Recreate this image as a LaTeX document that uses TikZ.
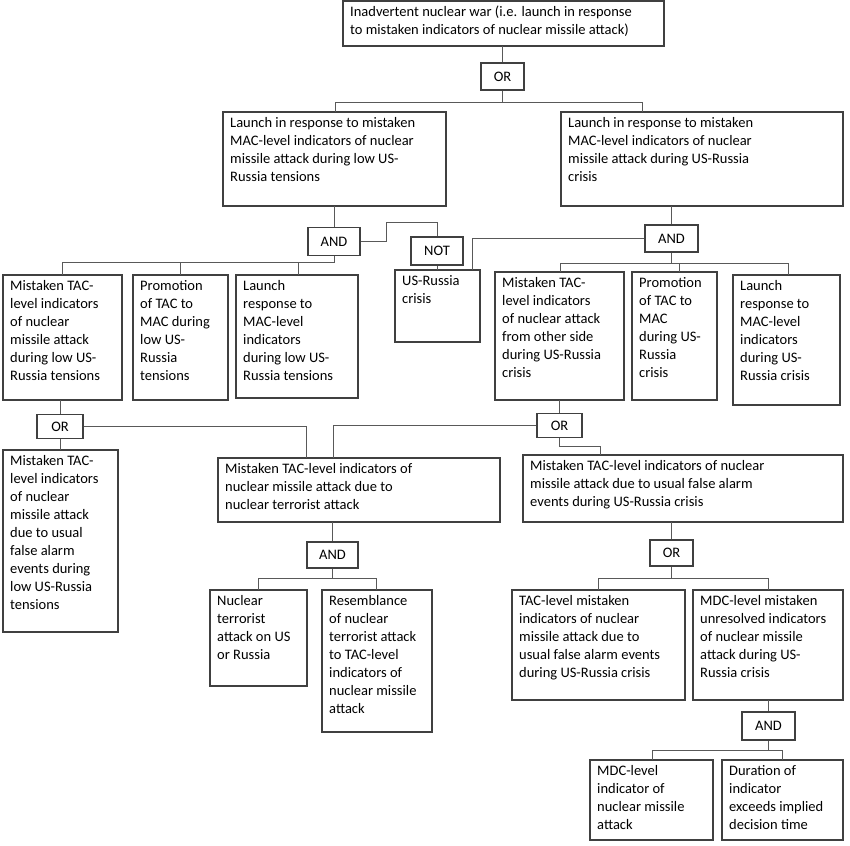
\documentclass[tikz,border=0pt]{standalone}
\usepackage{fontspec}
\setmainfont{Carlito}
\begin{document}
\begin{tikzpicture}[x=1pt,y=-1pt,
  frame/.style={draw=black!75,line width=1.1pt},
  txt/.style={anchor=north west,align=left,inner sep=0pt,font=\fontsize{14.5}{18}\selectfont},
  gate/.style={draw=black!75,line width=1.1pt,font=\fontsize{14.5}{18}\selectfont,inner sep=0pt},
  wire/.style={draw=black!65,line width=0.8pt}]
\useasboundingbox (0,0) rectangle (850,845);
\newcommand\bx[6]{%
  \path[frame] (#2,#3) rectangle (#4,#5);
  \node[inner sep=0pt,minimum width={#4-#2},minimum height={#5-#3}] (#1) at ({(#2+#4)/2},{(#3+#5)/2}) {};
  \node[txt] at (#2+7,#3+5) {#6};}
\bx{top}{343}{1}{664}{46}{Inadvertent nuclear war (i.e. launch in response\\to mistaken indicators of nuclear missile attack)}
\bx{l1}{223}{112}{446}{206}{Launch in response to mistaken\\MAC-level indicators of nuclear\\missile attack during low US-\\Russia tensions}
\bx{r1}{561}{112}{843}{206}{Launch in response to mistaken\\MAC-level indicators of nuclear\\missile attack during US-Russia\\crisis}
\bx{a}{3}{275}{122}{400}{Mistaken TAC-\\level indicators\\of nuclear\\missile attack\\during low US-\\Russia tensions}
\bx{b}{133}{275}{228}{400}{Promotion\\of TAC to\\MAC during\\low US-\\Russia\\tensions}
\bx{c}{236}{275}{358}{398}{Launch\\response to\\MAC-level\\indicators\\during low US-\\Russia tensions}
\bx{d}{395}{270}{480}{342}{US-Russia\\crisis}
\bx{e}{495}{272}{624}{400}{Mistaken TAC-\\level indicators\\of nuclear attack\\from other side\\during US-Russia\\crisis}
\bx{f}{632}{272}{717}{400}{Promotion\\of TAC to\\MAC\\during US-\\Russia\\crisis}
\bx{g}{733}{275}{840}{405}{Launch\\response to\\MAC-level\\indicators\\during US-\\Russia crisis}
\bx{h}{3}{450}{118}{632}{Mistaken TAC-\\level indicators\\of nuclear\\missile attack\\due to usual\\false alarm\\events during\\low US-Russia\\tensions}
\bx{i}{218}{458}{500}{522}{Mistaken TAC-level indicators of\\nuclear missile attack due to\\nuclear terrorist attack}
\bx{j}{523}{455}{843}{522}{Mistaken TAC-level indicators of nuclear\\missile attack due to usual false alarm\\events during US-Russia crisis}
\bx{k}{210}{590}{307}{686}{Nuclear\\terrorist\\attack on US\\or Russia}
\bx{l}{322}{590}{432}{732}{Resemblance\\of nuclear\\terrorist attack\\to TAC-level\\indicators of\\nuclear missile\\attack}
\bx{m}{512}{590}{685}{700}{TAC-level mistaken\\indicators of nuclear\\missile attack due to\\usual false alarm events\\during US-Russia crisis}
\bx{n}{693}{590}{843}{700}{MDC-level mistaken\\unresolved indicators\\of nuclear missile\\attack during US-\\Russia crisis}
\bx{o}{590}{760}{713}{840}{MDC-level\\indicator of\\nuclear missile\\attack}
\bx{p}{722}{760}{843}{840}{Duration of\\indicator\\exceeds implied\\decision time}
\node[gate,minimum width=43,minimum height=27] (or1) at (502.5,76.5) {OR};
\node[gate,minimum width=52,minimum height=28] (and1) at (334,241.5) {AND};
\node[gate,minimum width=52,minimum height=28] (not) at (437,251) {NOT};
\node[gate,minimum width=53,minimum height=27] (and2) at (671.5,238.5) {AND};
\node[gate,minimum width=46,minimum height=24] (or2) at (60,426.5) {OR};
\node[gate,minimum width=45,minimum height=24] (or3) at (559.5,425.5) {OR};
\node[gate,minimum width=51,minimum height=26] (and3) at (332.5,555) {AND};
\node[gate,minimum width=43,minimum height=26] (or4) at (671.5,553) {OR};
\node[gate,minimum width=53,minimum height=28] (and4) at (768.5,726) {AND};
% wires
\draw[wire] (top.south -| or1) -- (or1.north);
\draw[wire] (or1.south) -- ++(0,12) -| (l1.north -| 335,0);
\draw[wire] (or1.south) ++(0,12) -| (r1.north -| 642,0);
\draw[wire] (l1.south -| and1) -- (and1.north);
\draw[wire] (and1.east) -- (386,241.5) -- (386,222) -- (437,222) -- (not.north);
\draw[wire] (not.south) -- (d.north -| not);
\draw[wire] (and1.south) -- (334,262) -| (a.north -| 62,0);
\draw[wire] (334,262) -| (b.north -| 180,0);
\draw[wire] (334,262) -| (c.north -| 298,0);
\draw[wire] (r1.south -| and2) -- (and2.north);
\draw[wire] (and2.west) -| (d.north -| 472,0);
\draw[wire] (and2.south) -- (671.5,263) -| (e.north -| 560,0);
\draw[wire] (671.5,263) -| (f.north -| 679,0);
\draw[wire] (671.5,263) -| (g.north -| 788,0);
\draw[wire] (a.south -| or2) -- (or2.north);
\draw[wire] (or2.south) -- (h.north -| or2);
\draw[wire] (or2.east) -| (i.north -| 306,0);
\draw[wire] (e.south -| or3) -- (or3.north);
\draw[wire] (or3.west) -| (i.north -| 333,0);
\draw[wire] (or3.south) -- (559.5,446) -| (j.north -| 600,0);
\draw[wire] (i.south -| and3) -- (and3.north);
\draw[wire] (and3.south) -- (332.5,578) -| (k.north -| 258,0);
\draw[wire] (332.5,578) -| (l.north -| 376,0);
\draw[wire] (j.south -| or4) -- (or4.north);
\draw[wire] (or4.south) -- (671.5,578) -| (m.north -| 598,0);
\draw[wire] (671.5,578) -| (n.north -| 768,0);
\draw[wire] (n.south -| and4) -- (and4.north);
\draw[wire] (and4.south) -- (768.5,750) -| (o.north -| 652,0);
\draw[wire] (768.5,750) -| (p.north -| 782,0);
\end{tikzpicture}
\end{document}
